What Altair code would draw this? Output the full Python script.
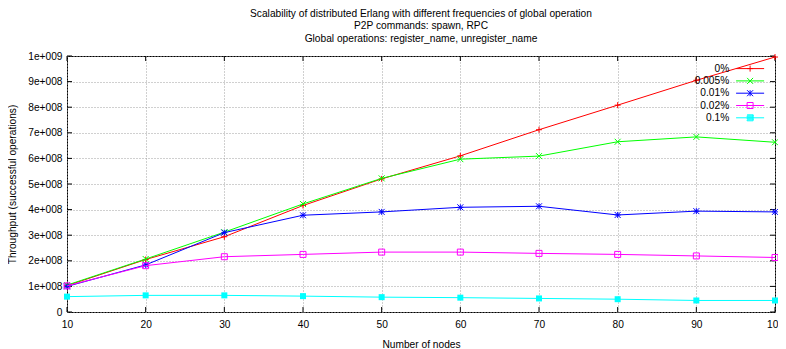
import altair as alt
import pandas as pd

# ---------------- data ----------------
nodes = [10, 20, 30, 40, 50, 60, 70, 80, 90, 100]
series_names = ["0%", "0.005%", "0.01%", "0.02%", "0.1%"]
s_0 = [1.03e8, 2.05e8, 2.94e8, 4.16e8, 5.20e8, 6.10e8, 7.12e8, 8.08e8, 9.05e8, 9.96e8]
s_0005 = [1.05e8, 2.07e8, 3.12e8, 4.22e8, 5.22e8, 5.97e8, 6.09e8, 6.65e8, 6.84e8, 6.63e8]
s_001 = [1.00e8, 1.84e8, 3.10e8, 3.78e8, 3.91e8, 4.09e8, 4.13e8, 3.79e8, 3.94e8, 3.91e8]
s_002 = [1.02e8, 1.81e8, 2.16e8, 2.25e8, 2.34e8, 2.34e8, 2.29e8, 2.25e8, 2.19e8, 2.13e8]
s_01 = [0.60e8, 0.65e8, 0.65e8, 0.62e8, 0.58e8, 0.56e8, 0.53e8, 0.50e8, 0.45e8, 0.45e8]
all_series = [s_0, s_0005, s_001, s_002, s_01]

colors = ["#ff0000", "#00ff00", "#0000ff", "#ff00ff", "#00ffff"]
x_ticks = [10, 20, 30, 40, 50, 60, 70, 80, 90, 100]
y_ticks = [0, 1e8, 2e8, 3e8, 4e8, 5e8, 6e8, 7e8, 8e8, 9e8, 1e9]
y_tick_labels = ["0", "1e+008", "2e+008", "3e+008", "4e+008", "5e+008",
                 "6e+008", "7e+008", "8e+008", "9e+008", "1e+009"]
title_lines = [
    "Scalability of distributed Erlang with different frequencies of global operation",
    "P2P commands: spawn, RPC",
    "Global operations: register_name, unregister_name",
]
x_title = "Number of nodes"
y_title = "Throughput (successful operations)"

# marker shapes (unit coords)
marker_paths = [
    "M-1,0H1M0,-1V1",
    "M-1,-1L1,1M-1,1L1,-1",
    "M-1,0H1M0,-1V1M-1,-1L1,1M-1,1L1,-1",
    "M-1,-1H1V1H-1Z",
    "square",
]
marker_filled = [False, False, False, False, True]
L = "M-4.67,0H4.67"
legend_paths = [
    L + "M-1,0H1M0,-1V1",
    L + "M-1,-1L1,1M-1,1L1,-1",
    L + "M0,-1V1M-1,-1L1,1M-1,1L1,-1",
    L + "M-1,-1H1V1H-1Z",
    L + "M-1,-1H1V-0.67H-1V-0.33H1V0H-1V0.33H1V0.67H-1V1H1V-1",
]

rows = []
for name, vals in zip(series_names, all_series):
    for n, v in zip(nodes, vals):
        rows.append({"nodes": n, "throughput": v, "series": name})
df = pd.DataFrame(rows)

# ---------------- chart ----------------
W, H = 708, 256
FONT = "Liberation Sans"
FS = 10.2

x_scale = alt.Scale(domain=[10, 100], nice=False)
y_scale = alt.Scale(domain=[0, 1e9], nice=False)

# nested ternary label expression built from the tick lists
label_expr = "''"
for v, lab in zip(reversed(y_ticks), reversed(y_tick_labels)):
    label_expr = f"(abs(datum.value - {v:.0f}) < 1 ? '{lab}' : {label_expr})"

x_axis = alt.Axis(values=x_ticks, title=x_title, grid=True, ticks=False, labelFlush=False,
                  domain=False, labelPadding=7, titlePadding=10)
y_axis = alt.Axis(values=y_ticks, title=y_title, grid=True, ticks=False, labelFlush=False,
                  domain=False, labelPadding=5, titlePadding=10, labelExpr=label_expr)

x_enc = alt.X("nodes:Q", scale=x_scale, axis=x_axis)
y_enc = alt.Y("throughput:Q", scale=y_scale, axis=y_axis)

base = alt.Chart(df)

layers = []

# inward ticks on all four sides (same fields/axes as the data layers)
yt = alt.Chart(pd.DataFrame({"throughput": y_ticks}))
xt = alt.Chart(pd.DataFrame({"nodes": x_ticks}))
layers.append(yt.mark_rule(color="black", strokeWidth=1).encode(y=y_enc, x=alt.value(0), x2=alt.value(5)))
layers.append(yt.mark_rule(color="black", strokeWidth=1).encode(y=y_enc, x=alt.value(W - 5), x2=alt.value(W)))
layers.append(xt.mark_rule(color="black", strokeWidth=1).encode(x=x_enc, y=alt.value(H), y2=alt.value(H - 5)))
layers.append(xt.mark_rule(color="black", strokeWidth=1).encode(x=x_enc, y=alt.value(0), y2=alt.value(5)))

for name, col, mp, filled in zip(series_names, colors, marker_paths, marker_filled):
    sub = base.transform_filter(alt.datum.series == name)
    layers.append(sub.mark_line(color=col, strokeWidth=1).encode(x=x_enc, y=y_enc))
    layers.append(sub.mark_point(shape=mp, color=col, filled=filled, size=36,
                                 strokeWidth=1, opacity=1).encode(x=x_enc, y=y_enc))

legend_cfg = alt.Legend(
    title=None, orient="none", legendX=678, legendY=7.5,
    labelAlign="right", labelOffset={"expr": "-26"}, labelFont=FONT, labelFontSize=FS,
    labelColor="black", symbolSize=36, symbolStrokeWidth=1, rowPadding=1.3, padding=0,
)
legend_layer = base.transform_filter("false").mark_point(
    filled=False, opacity=1, size=36, strokeWidth=1
).encode(
    x=x_enc, y=y_enc,
    color=alt.Color("series:N", scale=alt.Scale(domain=series_names, range=colors), legend=legend_cfg),
    shape=alt.Shape("series:N", scale=alt.Scale(domain=series_names, range=legend_paths), legend=legend_cfg),
)
layers.append(legend_layer)

chart = alt.layer(*layers).properties(
    width=W, height=H,
    background="white",
    title=alt.Title(text=title_lines, font=FONT, fontSize=FS, fontWeight="normal",
                    color="black", anchor="middle", lineHeight=12.3, offset=7),
    autosize=alt.AutoSizeParams(type="none"),
    padding={"left": 59, "top": 48, "right": 3, "bottom": 37},
).configure_view(
    stroke="black", strokeWidth=1
).configure_axis(
    labelFont=FONT, labelFontSize=FS, labelColor="black",
    titleFont=FONT, titleFontSize=FS, titleFontWeight="normal", titleColor="black",
    gridColor="#a0a0a0", gridDash=[1, 2], gridWidth=1, gridOpacity=1,
)

chart.save("out.html", embed_options={"renderer": "svg", "actions": False})
